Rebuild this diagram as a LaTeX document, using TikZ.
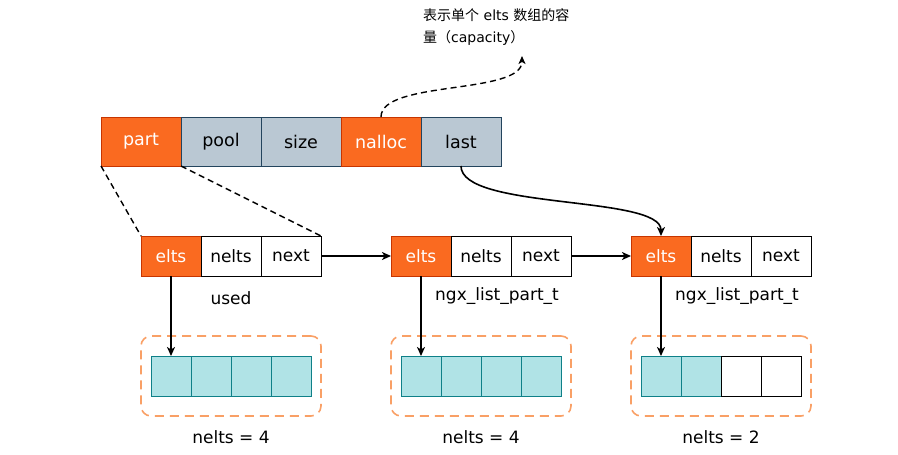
\documentclass[tikz,border=0pt]{standalone}
\usepackage{fontspec}
\setmainfont{DejaVu Sans}
\newfontfamily\cjk{Noto Sans CJK SC}
\usetikzlibrary{arrows.meta}
\definecolor{orfill}{HTML}{FA6A20}
\definecolor{orline}{HTML}{C73500}
\definecolor{gbfill}{HTML}{BAC8D3}
\definecolor{gbline}{HTML}{23445D}
\definecolor{tlfill}{HTML}{B0E3E6}
\definecolor{tlline}{HTML}{0E8088}
\definecolor{dashor}{HTML}{F9A066}
\tikzset{
  topcell/.style={draw=gbline, fill=gbfill, line width=1pt, minimum width=80pt, minimum height=49pt, inner sep=0pt, outer sep=0pt, font=\fontsize{17.5}{20}\selectfont},
  topor/.style={topcell, draw=orline, fill=orfill, text=white},
  rowcell/.style={draw=black, fill=white, line width=1pt, minimum width=60pt, minimum height=40pt, inner sep=0pt, outer sep=0pt, font=\fontsize{17}{20}\selectfont},
  rowor/.style={rowcell, draw=orline, fill=orfill, text=white},
  arrcell/.style={draw=tlline, fill=tlfill, line width=1pt, minimum width=40pt, minimum height=40pt, inner sep=0pt, outer sep=0pt},
  arrempty/.style={arrcell, draw=black, fill=white},
  groupbox/.style={draw=dashor, line width=1.6pt, dash pattern=on 9pt off 6pt, rounded corners=10pt, minimum width=180pt, minimum height=80pt, inner sep=0pt, outer sep=0pt},
  lbl/.style={font=\fontsize{17}{20}\selectfont, inner sep=0pt},
  conn/.style={line width=1.6pt, -{Stealth[length=9pt,width=8pt,inset=2.5pt]}},
  dconn/.style={line width=1.4pt, dash pattern=on 6pt off 4pt},
}
\begin{document}
\begin{tikzpicture}[x=1pt,y=-1pt]
\useasboundingbox (0,0) rectangle (898,455);
% top struct
\node[topor]   (part)   at (141,141.5) {part};
\node[topcell] (pool)   at (221,141.5) {pool};
\node[topcell] (size)   at (301,141.5) {size};
\node[topor]   (nalloc) at (381,141.5) {nalloc};
\node[topcell] (last)   at (461,141.5) {last};
% annotation
\node[anchor=north west, inner sep=0pt, align=left, font=\fontsize{14}{22}\selectfont] (note) at (423,8)
  {{\cjk 表示单个} elts {\cjk 数组的容}\\{\cjk 量（}capacity{\cjk ）}};
\coordinate (capTip) at (522,56);
% part rows
\node[rowor]   (e1) at (171,256) {elts};
\node[rowcell] (l1) at (231,256) {nelts};
\node[rowcell] (n1) at (291,256) {next};
\node[rowor]   (e2) at (421,256) {elts};
\node[rowcell] (l2) at (481,256) {nelts};
\node[rowcell] (n2) at (541,256) {next};
\node[rowor]   (e3) at (661,256) {elts};
\node[rowcell] (l3) at (721,256) {nelts};
\node[rowcell] (n3) at (781,256) {next};
% labels
\node[lbl] (used) at (231,298) {used};
\node[lbl] (t2) at (497,296) {ngx\_list\_part\_t};
\node[lbl] (t3) at (737,296) {ngx\_list\_part\_t};
% group boxes
\node[groupbox] (g1) at (231,376) {};
\node[groupbox] (g2) at (481,376) {};
\node[groupbox] (g3) at (721,376) {};
% arrays
\node[arrcell] (a1) at (171,376) {};
\node[arrcell] (a1b) at (211,376) {};
\node[arrcell] (a1c) at (251,376) {};
\node[arrcell] (a1d) at (291,376) {};
\node[arrcell] (a2) at (421,376) {};
\node[arrcell] (a2b) at (461,376) {};
\node[arrcell] (a2c) at (501,376) {};
\node[arrcell] (a2d) at (541,376) {};
\node[arrcell] (a3) at (661,376) {};
\node[arrcell] (a3b) at (701,376) {};
\node[arrempty] (a3c) at (741,376) {};
\node[arrempty] (a3d) at (781,376) {};
% bottom labels
\node[lbl] (c1) at (231,437) {nelts = 4};
\node[lbl] (c2) at (481,437) {nelts = 4};
\node[lbl] (c3) at (721,437) {nelts = 2};
% connectors
\draw[dconn] (part.south west) -- (e1.north west);
\draw[dconn] (part.south east) -- (n1.north east);
\draw[dconn, -{Stealth[length=8pt,width=7pt,inset=2pt]}] (nalloc.north) .. controls (381,80) and (522,95) .. (capTip);
\draw[conn] (last.south) .. controls (461,210) and (661,195) .. (e3.north);
\draw[conn] (n1.east) -- (e2.west);
\draw[conn] (n2.east) -- (e3.west);
\draw[conn] (e1.south) -- (a1.north);
\draw[conn] (e2.south) -- (a2.north);
\draw[conn] (e3.south) -- (a3.north);
\end{tikzpicture}
\end{document}
